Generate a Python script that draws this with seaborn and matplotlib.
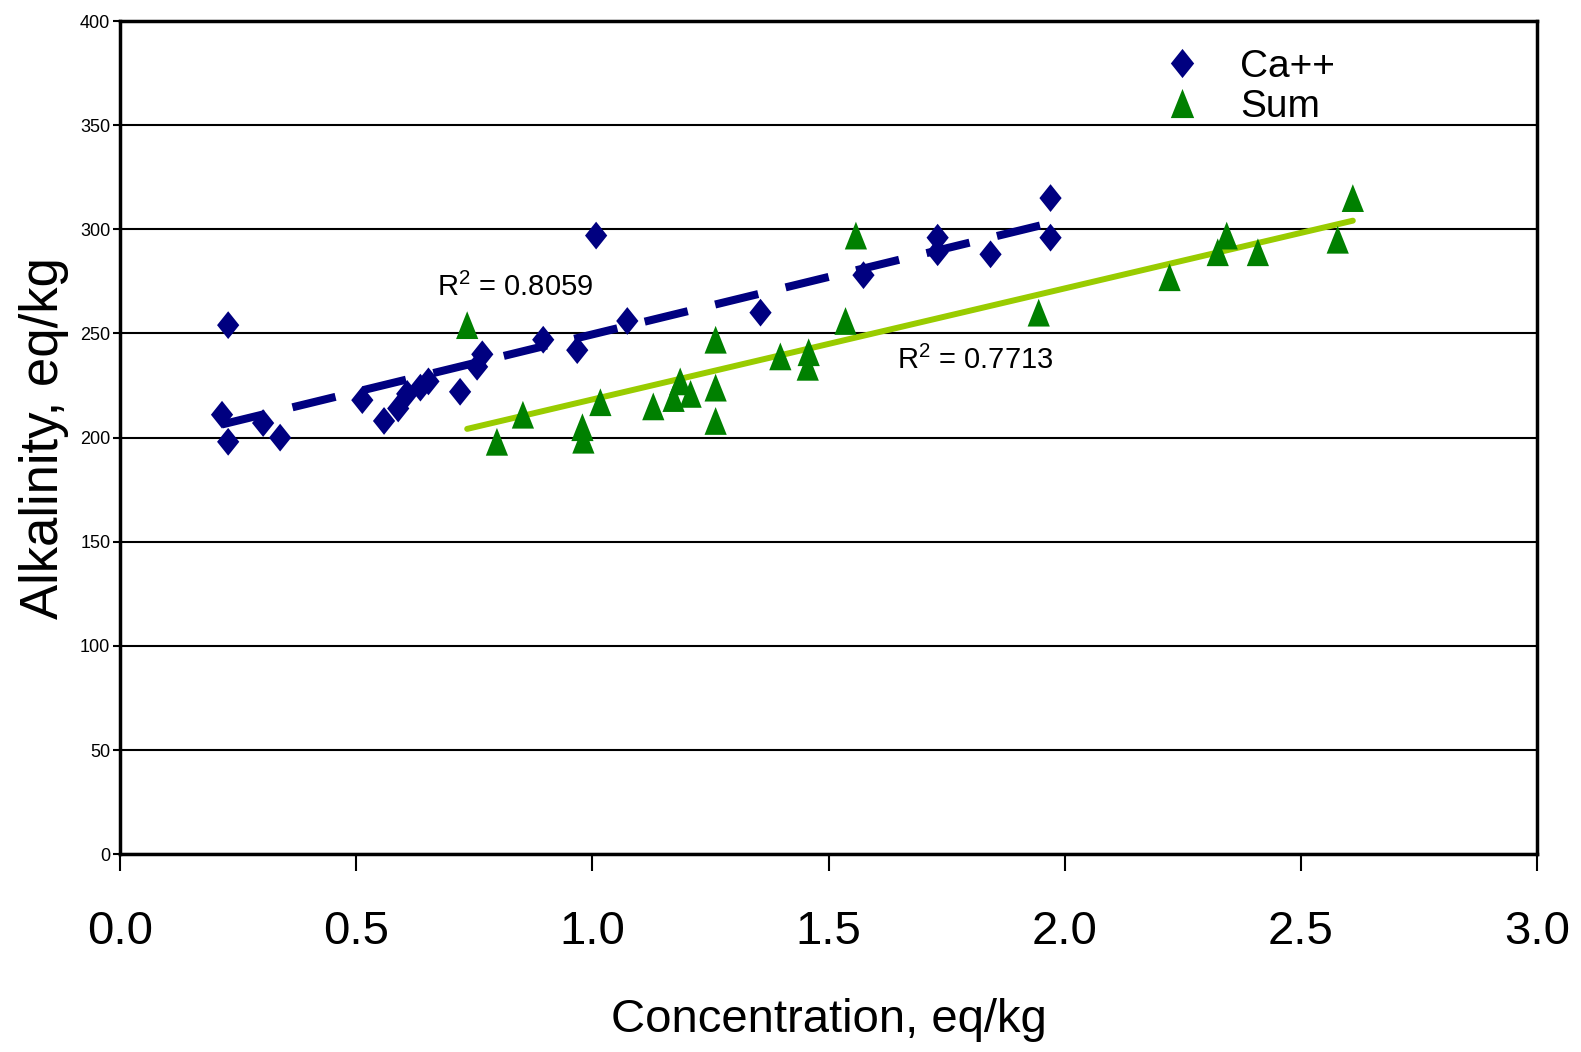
import numpy as np
import pandas as pd
import matplotlib
matplotlib.use("Agg")
import matplotlib.pyplot as plt
import seaborn as sns

# Alkalinity versus cation concentration
ca_x = [0.229, 0.216, 0.229, 0.303, 0.339, 0.513, 0.559, 0.589, 0.608, 0.636,
        0.653, 0.720, 0.756, 0.767, 0.896, 0.968, 1.008, 1.074, 1.356, 1.574,
        1.731, 1.731, 1.843, 1.970, 1.970]
ca_y = [254, 211, 198, 207, 200, 218, 208, 214, 221, 224,
        227, 222, 234, 240, 247, 242, 297, 256, 260, 278,
        289, 296, 288, 296, 315]

sum_x = [0.735, 0.798, 0.853, 0.979, 0.981, 1.017, 1.129, 1.172, 1.186, 1.208,
         1.261, 1.261, 1.261, 1.398, 1.456, 1.458, 1.536, 1.558, 1.945, 2.222,
         2.324, 2.343, 2.409, 2.578, 2.610]
sum_y = [254, 198, 211, 205, 199, 217, 215, 219, 227, 221,
         247, 224, 208, 239, 234, 241, 256, 297, 260, 277,
         289, 297, 289, 295, 315]

series_names = ["Ca++", "Sum"]
r2_labels = ["R$^{2}$ = 0.8059", "R$^{2}$ = 0.7713"]
x_ticks = [0.0, 0.5, 1.0, 1.5, 2.0, 2.5, 3.0]
y_ticks = list(range(0, 401, 50))

df = pd.DataFrame({
    "Concentration": ca_x + sum_x,
    "Alkalinity": ca_y + sum_y,
    "Series": [series_names[0]] * len(ca_x) + [series_names[1]] * len(sum_x),
})

sns.set_theme(style="white")
plt.rcParams["font.family"] = ["Liberation Sans", "DejaVu Sans"]
plt.rcParams["mathtext.fontset"] = "custom"
plt.rcParams["mathtext.rm"] = "Liberation Sans"
plt.rcParams["mathtext.it"] = "Liberation Sans"
for key in ["text.color", "axes.labelcolor", "xtick.color", "ytick.color"]:
    plt.rcParams[key] = "black"

fig = plt.figure(figsize=(15.81, 10.52), dpi=100)
ax = fig.add_axes([0.0759, 0.188, 0.8963, 0.792])

navy = "#000080"
green = "#008000"
lime = "#99CC00"

diamond = [(0, 1), (0.8, 0), (0, -1), (-0.8, 0), (0, 1)]
triangle = [(0, 1), (-0.8, -1), (0.8, -1), (0, 1)]

sns.scatterplot(data=df, x="Concentration", y="Alkalinity", hue="Series",
                style="Series", palette={"Ca++": navy, "Sum": green},
                markers={"Ca++": diamond, "Sum": triangle},
                s=400, linewidth=0, ax=ax, zorder=3)

sns.regplot(x=ca_x, y=ca_y, scatter=False, ci=None, ax=ax,
            line_kws=dict(color=navy, lw=5.8, dashes=(5.5, 3.5),
                          solid_capstyle="butt", zorder=4))
sns.regplot(x=sum_x, y=sum_y, scatter=False, ci=None, ax=ax,
            line_kws=dict(color=lime, lw=4.3, zorder=2))

ax.text(0.672, 272, r2_labels[0], fontsize=21, va="center", ha="left")
ax.text(1.644, 237, r2_labels[1], fontsize=21, va="center", ha="left")

ax.set_xlim(0, 3.0)
ax.set_ylim(0, 400)
ax.set_xticks(x_ticks)
ax.set_xticklabels([f"{v:.1f}" for v in x_ticks], fontsize=34)
ax.set_yticks(y_ticks)
ax.set_yticklabels([str(v) for v in y_ticks], fontsize=13)
ax.yaxis.grid(True, color="black", lw=1.5)
ax.xaxis.grid(False)
ax.tick_params(axis="x", direction="out", length=12, width=1.5, pad=28,
               bottom=True)
ax.tick_params(axis="y", direction="out", length=5, width=1.5, pad=2,
               left=True)
for sp in ax.spines.values():
    sp.set_visible(True)
    sp.set_color("black")
    sp.set_linewidth(2.5)

ax.set_xlabel("Concentration, eq/kg", fontsize=34, labelpad=32)
ax.set_ylabel("Alkalinity, eq/kg", fontsize=38, labelpad=8)

leg = ax.legend(loc="upper left", bbox_to_anchor=(0.711, 0.985), frameon=False,
                fontsize=28, handletextpad=0.5, labelspacing=0.1,
                markerscale=1.0, borderaxespad=0)
for h in leg.legend_handles:
    h.set_markersize(21)

fig.savefig("out.png", dpi=100)
